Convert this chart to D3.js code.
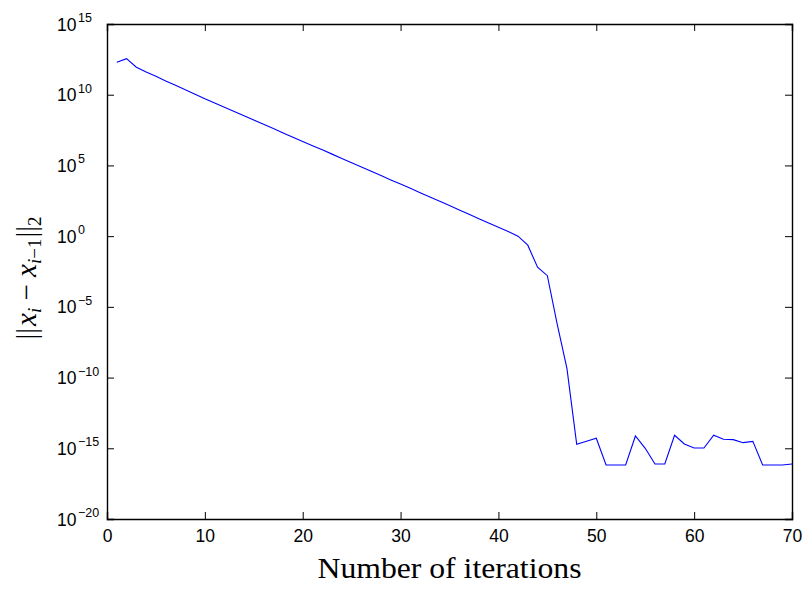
<!DOCTYPE html>
<html><head><meta charset="utf-8">
<script src="https://cdn.jsdelivr.net/npm/d3@7"></script>
<style>body{margin:0;background:#fff}</style>
</head><body>
<svg id="chart" width="806" height="589"></svg>
<script>
const iterations = d3.range(1, 71);
const residuals = [
  1.95e12, 3.55e12, 8.7e11, 4.0e11, 2.0e11, 9.5e10, 4.6e10, 2.2e10, 1.1e10, 5.2e9,
  2.6e9, 1.3e9, 6.5e8, 3.2e8, 1.6e8, 8.1e7, 4.1e7, 2.0e7, 1.0e7, 5.0e6,
  2.5e6, 1.26e6, 6.3e5, 3.1e5, 1.55e5, 7.8e4, 3.9e4, 1.95e4, 9.5e3, 4.8e3,
  2.4e3, 1.17e3, 5.9e2, 2.9e2, 1.45e2, 71, 35, 17, 8.5, 4.3,
  2.1, 1.0, 0.23, 6.3e-3, 1.6e-3, 6.3e-7, 4.5e-10, 1.9e-15, 3.1e-15, 5.1e-15,
  6.6e-17, 6.6e-17, 6.6e-17, 7.4e-15, 1.0e-15, 7.8e-17, 7.8e-17, 8.3e-15, 2.0e-15, 1.05e-15,
  1.05e-15, 8.3e-15, 4.4e-15, 4.1e-15, 2.5e-15, 3.1e-15, 6.6e-17, 6.6e-17, 6.6e-17, 7.8e-17
];
const xTicks = [0, 10, 20, 30, 40, 50, 60, 70];
const yTickExps = [15, 10, 5, 0, -5, -10, -15, -20];

const svg = d3.select("#chart");
const L = 107, R = 792, T = 24, B = 519;
const x = d3.scaleLinear().domain([0, 70]).range([L, R]);
const y = d3.scaleLog().domain([1e-20, 1e15]).range([B, T]);

// line
const line = d3.line().x((d, i) => x(iterations[i])).y(d => y(d));
svg.append("path").datum(residuals)
  .attr("d", line).attr("fill", "none")
  .attr("stroke", "#0000ff").attr("stroke-width", 1.1);

// axes (ticks inward)
const tickLen = 7;
const gB = svg.append("g").attr("transform", `translate(0,${B})`)
  .call(d3.axisBottom(x).tickValues(xTicks).tickSize(-tickLen).tickPadding(11).tickFormat(d3.format("d")));
const gT = svg.append("g").attr("transform", `translate(0,${T})`)
  .call(d3.axisTop(x).tickValues(xTicks).tickSize(-tickLen).tickFormat(""));
const yVals = yTickExps.map(e => Math.pow(10, e));
const gL = svg.append("g").attr("transform", `translate(${L},0)`)
  .call(d3.axisLeft(y).tickValues(yVals).tickSize(-tickLen).tickFormat(""));
const gR = svg.append("g").attr("transform", `translate(${R},0)`)
  .call(d3.axisRight(y).tickValues(yVals).tickSize(-tickLen).tickFormat(""));
[gB, gT, gL, gR].forEach(g => {
  g.select(".domain").attr("stroke", "#000").attr("stroke-width", 1.4);
  g.selectAll(".tick line").attr("stroke", "#000").attr("stroke-width", 1);
});
gB.selectAll(".tick text").attr("font-family", "Liberation Sans, Arial, sans-serif")
  .attr("font-size", 17.5).attr("fill", "#000");

// y tick labels: 10 with superscript exponent
yTickExps.forEach((e, i) => {
  const t = svg.append("text")
    .attr("x", 57).attr("y", y(yVals[i]) + 6.5)
    .attr("font-family", "Liberation Sans, Arial, sans-serif")
    .attr("font-size", 17.5).attr("fill", "#000");
  t.append("tspan").text("10");
  t.append("tspan").attr("dx", 1.5).attr("dy", -8.5).attr("font-size", 12.5)
    .text(e < 0 ? "\u2212" + (-e) : String(e));
});

// x label
svg.append("text").attr("x", (L + R) / 2).attr("y", 578)
  .attr("text-anchor", "middle")
  .attr("font-family", "Liberation Serif, Times New Roman, serif")
  .attr("font-size", 29).attr("fill", "#000")
  .attr("textLength", 264).attr("lengthAdjust", "spacingAndGlyphs")
  .text("Number of iterations");

// y label
const yl = svg.append("text")
  .attr("transform", "translate(36,278) rotate(-90)")
  .attr("text-anchor", "middle")
  .attr("font-family", "Liberation Serif, Times New Roman, serif")
  .attr("font-size", 29).attr("fill", "#000");
yl.append("tspan").text("||");
yl.append("tspan").attr("dx", 2).attr("font-style", "italic").text("x");
yl.append("tspan").attr("font-style", "italic").attr("font-size", 19).attr("dy", 5).text("i");
yl.append("tspan").attr("dy", -5).text(" \u2212 ");
yl.append("tspan").attr("font-style", "italic").text("x");
yl.append("tspan").attr("font-size", 19).attr("dy", 5).html("<tspan font-style='italic'>i</tspan>\u22121");
yl.append("tspan").attr("dy", -5).attr("dx", 1).text("||");
yl.append("tspan").attr("font-size", 19).attr("dy", 5).text("2");
</script>
</body></html>
